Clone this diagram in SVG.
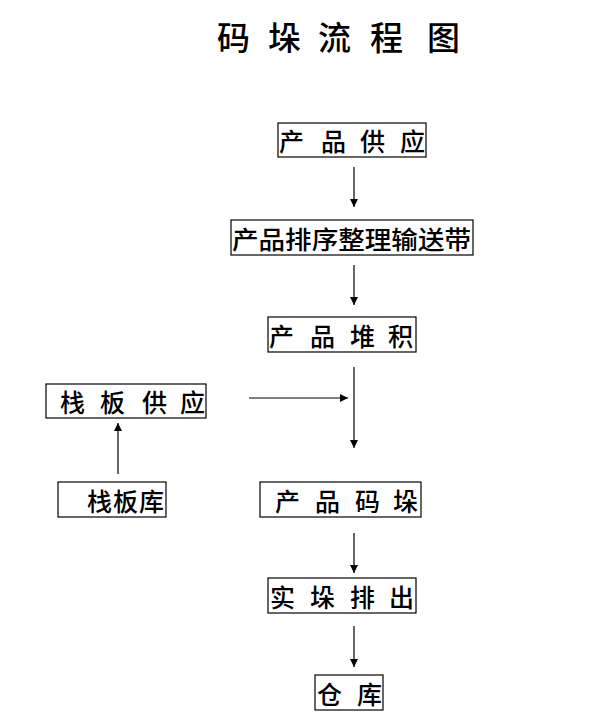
<svg xmlns="http://www.w3.org/2000/svg" width="594" height="717" viewBox="0 0 594 717">
<style>
.bx{fill:#fff;stroke:#000;stroke-width:1.2}
.t{font-family:"Noto Sans CJK SC","Liberation Serif",serif;font-size:25px;font-weight:500;fill:#000;dominant-baseline:central}
.ttl{font-family:"Noto Sans CJK SC","Liberation Serif",serif;font-size:33px;font-weight:500;fill:#000;dominant-baseline:central}
.c{stroke:#000;stroke-width:1.2;fill:none;marker-end:url(#ah)}
</style>
<defs>
<marker id="ah" markerWidth="8" markerHeight="10" refX="8" refY="5" orient="auto" markerUnits="userSpaceOnUse">
<path d="M0,1 L8,5 L0,9 Z" fill="#000"/>
</marker>
</defs>
<rect width="594" height="717" fill="#fff"/>
<text class="ttl" x="217 242 268 293 318 344 370 398 427" y="36">码 垛 流 程 图</text>
<g id="n1"><rect class="bx" x="278" y="123" width="148" height="34"/><text class="t" x="279 300 321 340 360 380 400" y="140">产 品 供 应</text></g>
<g id="n2"><rect class="bx" x="231" y="220" width="242" height="35"/><text class="t" x="232" y="237.5" textLength="239" lengthAdjust="spacingAndGlyphs">产品排序整理输送带</text></g>
<g id="n3"><rect class="bx" x="268" y="317" width="148" height="35"/><text class="t" x="269 290 310 330 350 369 388" y="335">产 品 堆 积</text></g>
<g id="n4"><rect class="bx" x="46" y="384" width="160" height="34"/><text class="t" x="60 80 100 121 142 161 180" y="401">栈 板 供 应</text></g>
<g id="n5"><rect class="bx" x="58" y="482" width="108" height="35"/><text class="t" x="87 113 139" y="499.5">栈板库</text></g>
<g id="n6"><rect class="bx" x="260" y="482" width="161" height="35"/><text class="t" x="275 295 315 335 355 374 393" y="499.5">产 品 码 垛</text></g>
<g id="n7"><rect class="bx" x="268" y="578" width="148" height="35"/><text class="t" x="270 290 310 330 350 370 389" y="596">实 垛 排 出</text></g>
<g id="n8"><rect class="bx" x="315" y="675" width="68" height="35"/><text class="t" x="317 337 357" y="693">仓 库</text></g>
<g id="connectors">
<line class="c" x1="354" y1="167" x2="354" y2="207"/>
<line class="c" x1="354" y1="265" x2="354" y2="305"/>
<line class="c" x1="354" y1="367" x2="354" y2="448"/>
<line class="c" x1="249" y1="398" x2="348" y2="398"/>
<line class="c" x1="118" y1="474" x2="118" y2="423"/>
<line class="c" x1="354" y1="533" x2="354" y2="573"/>
<line class="c" x1="354" y1="626" x2="354" y2="667"/>
</g>
</svg>
